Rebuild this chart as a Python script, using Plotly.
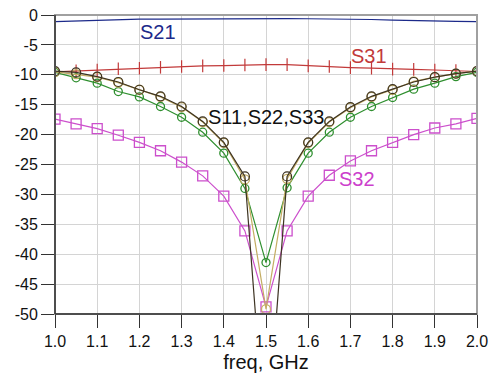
import plotly.graph_objects as go

freq = [1.0, 1.05, 1.1, 1.15, 1.2, 1.25, 1.3, 1.35, 1.4, 1.45, 1.5,
        1.55, 1.6, 1.65, 1.7, 1.75, 1.8, 1.85, 1.9, 1.95, 2.0]

s21 = [-1.1, -1.0, -0.85, -0.75, -0.7, -0.68, -0.65, -0.63, -0.62, -0.62, -0.62,
       -0.62, -0.63, -0.65, -0.68, -0.75, -0.85, -0.95, -1.0, -1.05, -1.1]
s31 = [-9.5, -9.35, -9.2, -9.0, -8.9, -8.75, -8.6, -8.5, -8.45, -8.35, -8.3,
       -8.3, -8.5, -8.6, -8.8, -8.9, -9.05, -9.1, -9.2, -9.3, -9.45]
s11 = [-9.4, -9.6, -10.3, -11.2, -12.5, -13.6, -15.3, -17.8, -21.3, -27.0, -73.0,
       -27.0, -21.3, -17.8, -15.4, -13.6, -12.4, -11.2, -10.4, -9.8, -9.4]
s22 = [-9.5, -9.9, -10.4, -11.3, -12.5, -13.7, -15.4, -17.9, -21.4, -27.5, -49.2,
       -27.4, -21.4, -17.9, -15.5, -13.7, -12.5, -11.1, -10.4, -9.8, -9.4]
s33 = [-9.6, -10.5, -11.4, -12.8, -13.7, -15.3, -17.1, -19.6, -23.1, -29.0, -41.4,
       -28.9, -23.1, -19.6, -17.1, -15.3, -13.8, -12.4, -11.4, -10.3, -9.6]
s32 = [-17.4, -18.2, -19.0, -20.1, -21.3, -22.7, -24.6, -26.9, -30.3, -36.1, -48.8,
       -36.1, -30.3, -26.8, -24.4, -22.7, -21.3, -20.0, -18.9, -18.2, -17.3]

x_ticks = [1.0, 1.1, 1.2, 1.3, 1.4, 1.5, 1.6, 1.7, 1.8, 1.9, 2.0]
y_ticks = [0, -5, -10, -15, -20, -25, -30, -35, -40, -45, -50]

fig = go.Figure()

fig.add_trace(go.Scatter(x=freq, y=s21, mode="lines",
                         line=dict(color="#1c2a8a", width=1.2)))
fig.add_trace(go.Scatter(x=freq, y=s31, mode="lines+markers",
                         line=dict(color="#c23a3a", width=1.2),
                         marker=dict(symbol="line-ns-open", size=9,
                                     line=dict(color="#c23a3a", width=1.2))))
fig.add_trace(go.Scatter(x=freq, y=s32, mode="lines+markers",
                         line=dict(color="#cc4fcc", width=1.2),
                         marker=dict(symbol="square-open", size=10,
                                     color="#cc4fcc",
                                     line=dict(color="#cc4fcc", width=1.3))))
fig.add_trace(go.Scatter(x=freq, y=s33, mode="lines+markers",
                         line=dict(color="#2f8f2f", width=1.2),
                         marker=dict(symbol="circle-open", size=8,
                                     color="#2f8f2f",
                                     line=dict(color="#2f8f2f", width=1.3))))
fig.add_trace(go.Scatter(x=freq, y=s22, mode="lines+markers",
                         line=dict(color="#c4ad63", width=1.2),
                         marker=dict(symbol="circle-open", size=9,
                                     color="#c4ad63",
                                     line=dict(color="#c4ad63", width=1.3))))
fig.add_trace(go.Scatter(x=freq, y=s11, mode="lines+markers",
                         line=dict(color="#3d3322", width=1.2),
                         marker=dict(symbol="circle-open", size=9,
                                     color="#3d3322",
                                     line=dict(color="#3d3322", width=1.2))))

font = "Liberation Sans, Arial, sans-serif"
labels = [
    ("S21", 1.245, -2.8, "#1c2a8a"),
    ("S31", 1.745, -6.9, "#c23a3a"),
    ("S11,S22,S33", 1.5, -17.0, "#111111"),
    ("S32", 1.715, -27.5, "#cc3fcc"),
]
for txt, lx, ly, col in labels:
    fig.add_annotation(x=lx, y=ly, text=txt, showarrow=False,
                       font=dict(family=font, size=20, color=col))

fig.add_shape(type="rect", xref="paper", yref="paper", x0=0, y0=0, x1=1, y1=1,
              line=dict(color="#a0a0a0", width=2), layer="above")
fig.add_shape(type="line", xref="paper", yref="paper", x0=0, y0=0, x1=0, y1=1,
              line=dict(color="#333333", width=1.5), layer="above")
fig.add_shape(type="line", xref="paper", yref="paper", x0=0, y0=0, x1=1, y1=0,
              line=dict(color="#333333", width=1.5), layer="above")

fig.update_layout(
    width=497, height=379,
    margin=dict(l=55, r=20, t=15, b=65),
    paper_bgcolor="white", plot_bgcolor="white",
    showlegend=False,
    font=dict(family=font, size=16, color="#111111"),
    xaxis=dict(range=[1.0, 2.0], tickvals=x_ticks,
               ticktext=[f"{v:.1f}" for v in x_ticks],
               showgrid=True, gridcolor="#d4d4d4", gridwidth=1,
               zeroline=False, showline=False, automargin=False,
               ticks="outside", ticklen=13, tickwidth=1.3, tickcolor="#333333",
               title=dict(text="freq, GHz", standoff=5,
                          font=dict(family=font, size=20)),
               tickfont=dict(family=font, size=16)),
    yaxis=dict(range=[-50, 0], tickvals=y_ticks,
               ticktext=[str(v) for v in y_ticks],
               showgrid=True, gridcolor="#d4d4d4", gridwidth=1,
               zeroline=False, showline=False, automargin=False,
               ticks="outside", ticklen=13, tickwidth=1.3, tickcolor="#333333",
               tickfont=dict(family=font, size=16)),
)

fig.write_html("out.html", config={"displayModeBar": False},
               post_script="document.body.style.margin='0';document.body.style.overflow='hidden';")
